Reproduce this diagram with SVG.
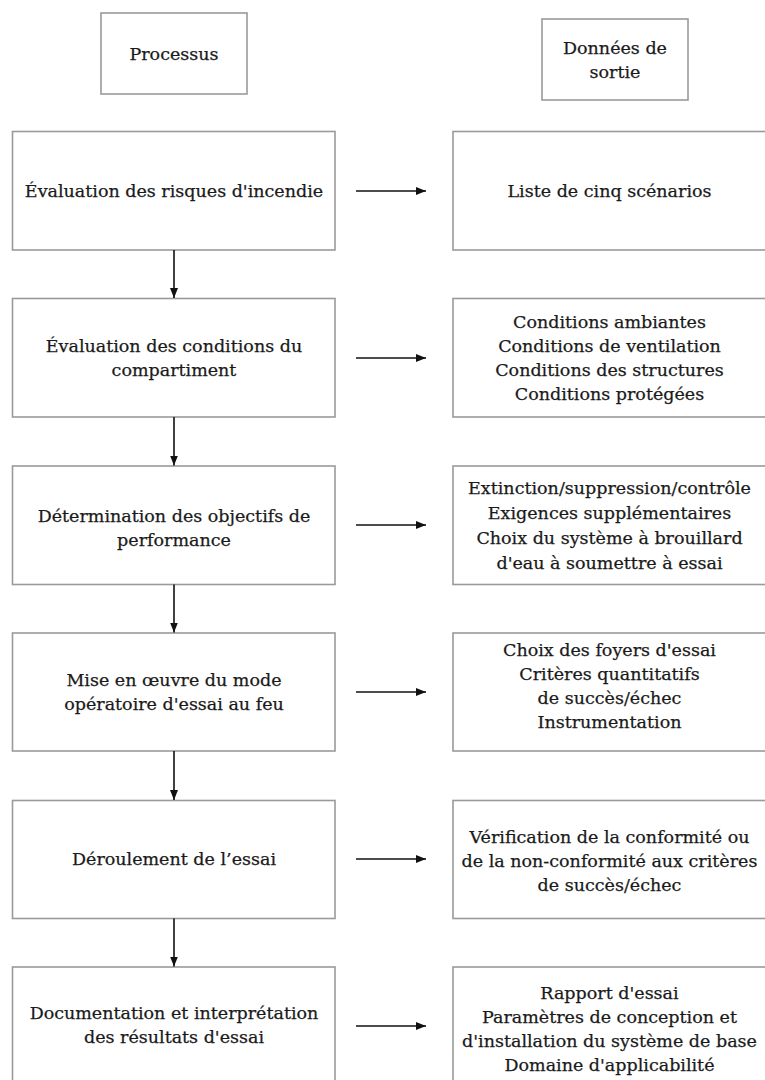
<svg xmlns="http://www.w3.org/2000/svg" width="765" height="1080" viewBox="0 0 765 1080">
<style>
.box{fill:#fff;stroke:#9a9a9a;stroke-width:1.6}
.t{font-family:"DejaVu Serif","Liberation Serif",serif;font-size:17.5px;fill:#1a1a1a;stroke:#1a1a1a;stroke-width:0.25;text-anchor:middle}
.c{stroke:#111;stroke-width:1.6;fill:none;marker-end:url(#ah)}
</style>
<defs>
<marker id="ah" viewBox="0 0 10 8" refX="10" refY="4" markerWidth="10" markerHeight="8" markerUnits="userSpaceOnUse" orient="auto">
<path d="M0,0 L10,4 L0,8 Z" fill="#111"/>
</marker>
</defs>
<rect width="765" height="1080" fill="#fff"/>

<g id="h-processus">
<rect class="box" x="101" y="13" width="146" height="81"/>
<text class="t" x="174" y="59.5">Processus</text>
</g>
<g id="h-donnees">
<rect class="box" x="542" y="19" width="146" height="81"/>
<text class="t" x="615" y="53.5">Données de</text>
<text class="t" x="615" y="77.5">sortie</text>
</g>

<g id="p1">
<rect class="box" x="12.5" y="131.5" width="322.5" height="118.5"/>
<text class="t" x="174" y="197">Évaluation des risques d'incendie</text>
</g>
<g id="o1">
<rect class="box" x="453" y="131.5" width="313" height="118.5"/>
<text class="t" x="609.5" y="197">Liste de cinq scénarios</text>
</g>

<g id="p2">
<rect class="box" x="12.5" y="298.5" width="322.5" height="118.5"/>
<text class="t" x="174" y="352">Évaluation des conditions du</text>
<text class="t" x="174" y="376">compartiment</text>
</g>
<g id="o2">
<rect class="box" x="453" y="298.5" width="313" height="118.5"/>
<text class="t" x="609.5" y="328">Conditions ambiantes</text>
<text class="t" x="609.5" y="352">Conditions de ventilation</text>
<text class="t" x="609.5" y="376">Conditions des structures</text>
<text class="t" x="609.5" y="400">Conditions protégées</text>
</g>

<g id="p3">
<rect class="box" x="12.5" y="466" width="322.5" height="118.5"/>
<text class="t" x="174" y="522">Détermination des objectifs de</text>
<text class="t" x="174" y="546">performance</text>
</g>
<g id="o3">
<rect class="box" x="453" y="466" width="313" height="118.5"/>
<text class="t" x="609.5" y="494">Extinction/suppression/contrôle</text>
<text class="t" x="609.5" y="519">Exigences supplémentaires</text>
<text class="t" x="609.5" y="544">Choix du système à brouillard</text>
<text class="t" x="609.5" y="569">d'eau à soumettre à essai</text>
</g>

<g id="p4">
<rect class="box" x="12.5" y="633" width="322.5" height="118"/>
<text class="t" x="174" y="686">Mise en œuvre du mode</text>
<text class="t" x="174" y="710">opératoire d'essai au feu</text>
</g>
<g id="o4">
<rect class="box" x="453" y="633" width="313" height="118"/>
<text class="t" x="609.5" y="656">Choix des foyers d'essai</text>
<text class="t" x="609.5" y="680">Critères quantitatifs</text>
<text class="t" x="609.5" y="704">de succès/échec</text>
<text class="t" x="609.5" y="728">Instrumentation</text>
</g>

<g id="p5">
<rect class="box" x="12.5" y="800.5" width="322.5" height="118"/>
<text class="t" x="174" y="865">Déroulement de l’essai</text>
</g>
<g id="o5">
<rect class="box" x="453" y="800.5" width="313" height="118"/>
<text class="t" x="609.5" y="843">Vérification de la conformité ou</text>
<text class="t" x="609.5" y="867">de la non-conformité aux critères</text>
<text class="t" x="609.5" y="891">de succès/échec</text>
</g>

<g id="p6">
<rect class="box" x="12.5" y="967" width="322.5" height="118"/>
<text class="t" x="174" y="1019">Documentation et interprétation</text>
<text class="t" x="174" y="1043">des résultats d'essai</text>
</g>
<g id="o6">
<rect class="box" x="453" y="967" width="313" height="118"/>
<text class="t" x="609.5" y="999">Rapport d'essai</text>
<text class="t" x="609.5" y="1023">Paramètres de conception et</text>
<text class="t" x="609.5" y="1047">d'installation du système de base</text>
<text class="t" x="609.5" y="1071">Domaine d'applicabilité</text>
</g>

<g id="connectors">
<line class="c" x1="356" y1="191" x2="426" y2="191"/>
<line class="c" x1="356" y1="358" x2="426" y2="358"/>
<line class="c" x1="356" y1="525" x2="426" y2="525"/>
<line class="c" x1="356" y1="692" x2="426" y2="692"/>
<line class="c" x1="356" y1="859" x2="426" y2="859"/>
<line class="c" x1="356" y1="1026" x2="426" y2="1026"/>
<line class="c" x1="174" y1="250" x2="174" y2="298"/>
<line class="c" x1="174" y1="417" x2="174" y2="465.5"/>
<line class="c" x1="174" y1="584.5" x2="174" y2="632.5"/>
<line class="c" x1="174" y1="751" x2="174" y2="800"/>
<line class="c" x1="174" y1="918.5" x2="174" y2="966.5"/>
</g>
</svg>
